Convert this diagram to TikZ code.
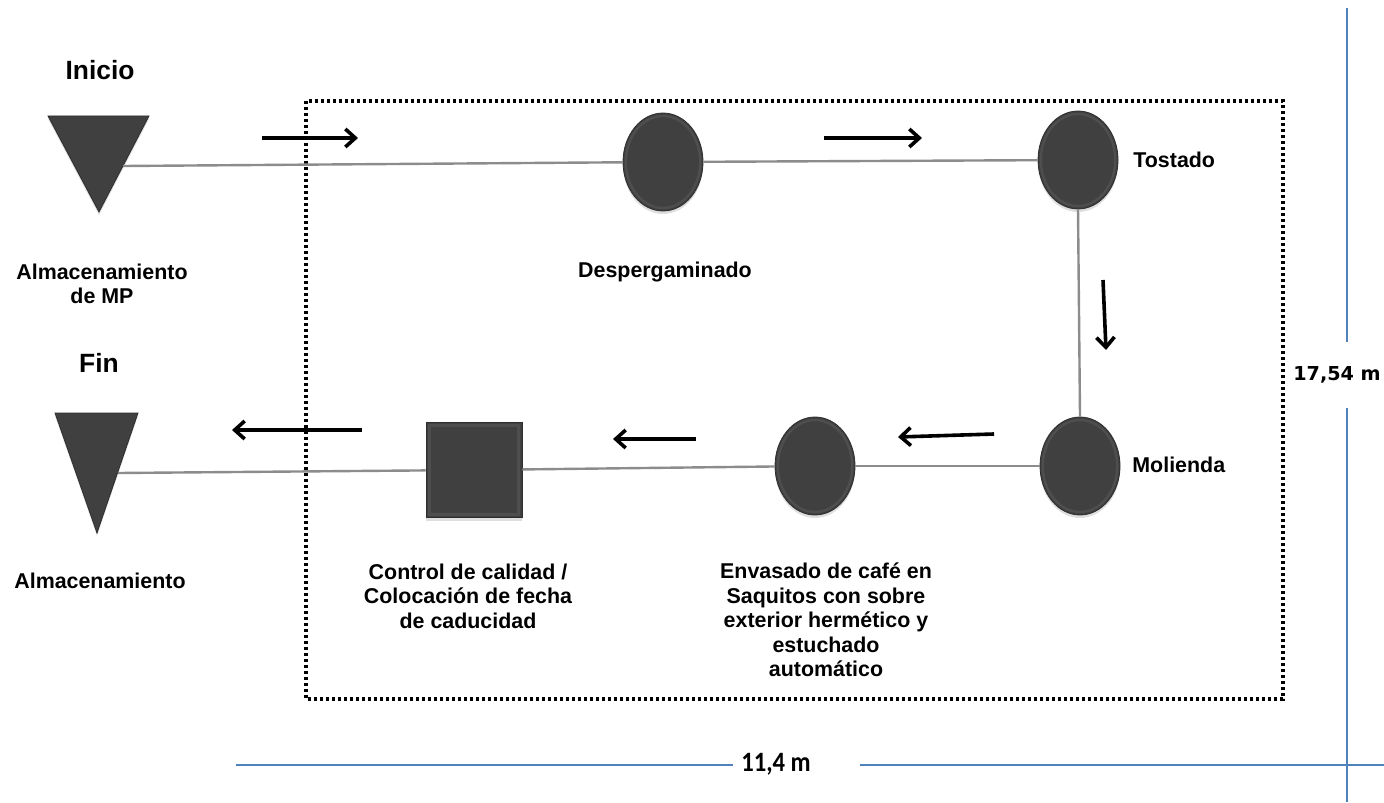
\documentclass[tikz,border=0pt]{standalone}
\usepackage{fontspec}
\setmainfont{Liberation Sans}
\newfontfamily\widthfont{Carlito}
\newfontfamily\heightfont{DejaVu Sans}
\usetikzlibrary{shapes.geometric,arrows.meta,shadows}
\definecolor{shapegray}{HTML}{404040}
\definecolor{rimgray}{HTML}{2E2E2E}
\definecolor{bevelgray}{HTML}{4E4E4E}
\definecolor{linkgray}{HTML}{8C8C8C}
\definecolor{dimblue}{HTML}{4F81BD}

\begin{document}
\begin{tikzpicture}[x=0.5pt,y=-0.5pt,
  every node/.style={inner sep=0pt, align=center},
  lbl/.style={font=\bfseries\fontsize{10.7}{12.3}\selectfont},
  title/.style={font=\bfseries\fontsize{13.2}{15}\selectfont},
  soft/.style={drop shadow={shadow xshift=0pt, shadow yshift=-1.5pt, opacity=0.25}},
  station/.style={ellipse, fill=shapegray, draw=rimgray, line width=0.4pt,
    minimum width=40pt, minimum height=49pt, soft,
    path picture={\draw[bevelgray, line width=1.2pt]
      (path picture bounding box.center) ellipse [x radius=18.6pt, y radius=23pt];}},
  check/.style={rectangle, fill=shapegray, draw=rimgray, line width=0.4pt,
    minimum width=48pt, minimum height=47.5pt, soft,
    path picture={\draw[bevelgray, line width=1.4pt]
      ([shift={(1.6pt,-1.6pt)}]path picture bounding box.north west) rectangle
      ([shift={(-1.6pt,1.6pt)}]path picture bounding box.south east);}},
  store/.style={fill=shapegray, draw=rimgray, line width=0.4pt, soft},
  link/.style={draw=linkgray, line width=1.2pt},
  flow/.style={line width=1.8pt, -{Straight Barb[length=5pt,width=9pt]}},
  frame/.style={line width=1.6pt, dash pattern=on 1.5pt off 1.5pt},
  dim/.style={draw=dimblue, line width=1pt}]

\useasboundingbox (0,0) rectangle (1384,802);

% process boundary
\draw[frame] (306,101) rectangle (1283,699);

% storage symbols (start and end)
\draw[store] (48,116) -- (149,116) -- (99,212) -- cycle;
\draw[store] (55,413) -- (138,413) -- (97,533) -- cycle;
\coordinate (ini) at (123,166);
\coordinate (fin) at (118,473);

% operations
\node[station] (desp) at (663,162) {};
\node[station] (tost) at (1078,160) {};
\node[station] (mol)  at (1080,466) {};
\node[station] (env)  at (815,466) {};
\node[check]   (ctrl) at (474,470) {};

% connections between the steps
\draw[link] (ini) -- (desp);
\draw[link] (desp) -- (tost);
\draw[link] (tost.south) -- (mol.north);
\draw[link] (mol) -- (env);
\draw[link] (env) -- (ctrl);
\draw[link] (ctrl) -- (fin);

% direction of the flow
\draw[flow] (262,138) -- (358,138);
\draw[flow] (824,138) -- (922,138);
\draw[flow] (1103,280) -- (1106,350);
\draw[flow] (994,434) -- (898,437);
\draw[flow] (696,439) -- (613,439);
\draw[flow] (362,430) -- (232,430);

% labels
\node[title] at (100,70) {Inicio};
\node[title] at (99,363) {Fin};
\node[lbl] at (102,284) {Almacenamiento\\de MP};
\node[lbl] at (100,581) {Almacenamiento};
\node[lbl] at (665,272) {Despergaminado};
\node[lbl, anchor=west] at (1133,160) {Tostado};
\node[lbl, anchor=west] at (1132,465) {Molienda};
\node[lbl] at (468,596) {Control de calidad /\\Colocación de fecha\\de caducidad};
\node[lbl] at (826,620) {Envasado de café en\\Saquitos con sobre\\exterior hermético y\\estuchado\\automático};

% overall dimensions
\draw[dim] (236,765) -- (733,765);
\draw[dim] (860,765) -- (1384,765);
\draw[dim] (1347,8) -- (1347,342);
\draw[dim] (1347,408) -- (1347,802);
\node[font=\widthfont\bfseries\fontsize{14}{16}\selectfont] at (776,764) {\scalebox{0.88}[1]{11,4 m}};
\node[font=\heightfont\bfseries\fontsize{9.6}{11}\selectfont] at (1337,375) {17,54 m};

\end{tikzpicture}
\end{document}
